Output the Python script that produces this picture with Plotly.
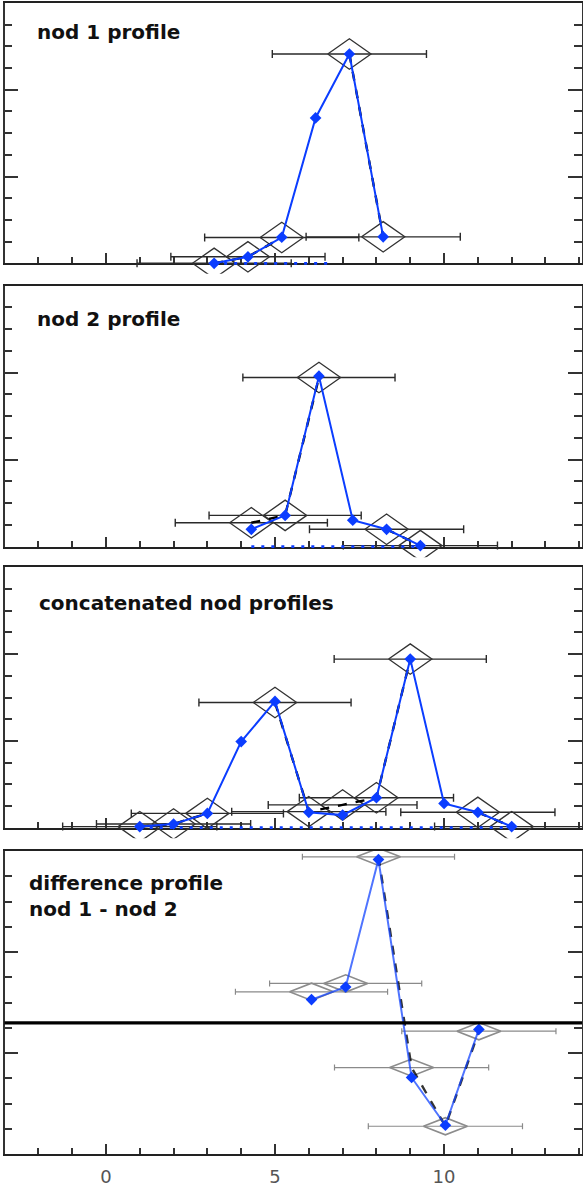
import plotly.graph_objects as go

# ---------------- data ----------------
x_range = [-3, 14.08]
x_ticks_major = [0, 5, 10]

# nod 1 profile
nod1_x = [3.2, 4.2, 5.2, 6.2, 7.2, 8.2]
nod1_blue = [0.0, 0.3, 1.2, 6.7, 9.65, 1.22]
nod1_open = [0.0, 0.3, 1.19, None, 9.65, 1.22]
nod1_black = [0.0, 0.3, 1.19, None, 9.65, 1.22]
nod1_xerr = [2.28, 2.28, 2.28, 0.0, 2.28, 2.28]
nod1_base_x = [3.2, 6.65]
nod1_base_y = [0.0, 0.0]

# nod 2 profile
nod2_x = [4.3, 5.3, 6.3, 7.3, 8.3, 9.3]
nod2_blue = [0.8, 1.44, 7.84, 1.22, 0.8, 0.05]
nod2_open = [1.1, 1.44, 7.78, None, 0.8, 0.05]
nod2_black = [1.1, 1.44, 7.78, None, 0.8, 0.05]
nod2_xerr = [2.25, 2.25, 2.25, 0.0, 2.28, 2.28]
nod2_base_x = [4.3, 9.3]
nod2_base_y = [0.0, 0.0]

# concatenated nod profiles
cat_x = [1.0, 2.0, 3.0, 4.0, 5.0, 6.0, 7.0, 8.0, 9.0, 10.0, 11.0, 12.0]
cat_blue = [0.05, 0.17, 0.66, 3.97, 5.82, 0.71, 0.58, 1.38, 7.77, 1.12, 0.71, 0.05]
cat_open = [0.05, 0.17, 0.66, None, 5.77, 0.74, 1.05, 1.38, 7.77, None, 0.71, 0.05]
cat_black = [0.05, 0.17, 0.66, None, 5.77, 0.74, 1.05, 1.38, 7.77, None, 0.71, 0.05]
cat_xerr = [2.28, 2.28, 2.25, 0.0, 2.25, 2.28, 2.2, 2.28, 2.25, 0.0, 2.28, 2.28]
cat_base_x = [1.0, 12.0]
cat_base_y = [0.0, 0.0]

# difference profile
diff_x = [6.08, 7.09, 8.06, 9.04, 10.04, 11.03]
diff_blue = [0.92, 1.42, 6.46, -2.16, -4.05, -0.26]
diff_open = [1.23, 1.56, 6.57, -1.77, -4.09, -0.33]
diff_black = [None, None, 6.57, -1.77, -4.09, -0.33]
diff_xerr = [2.25, 2.25, 2.25, 2.28, 2.28, 2.28]
diff_zero = 0.0

labels = ["nod 1 profile", "nod 2 profile", "concatenated nod profiles",
          "difference profile<br>nod 1 - nod 2"]

# ---------------- layout constants ----------------
W, H = 583, 1186
X_LEFT, X_RIGHT = 4.5, 582.0
frames = [(3.0, 263.3), (285.7, 546.7), (567.3, 827.7), (851.0, 1154.3)]
yranges = [(0.0, 12.0), (0.0, 12.0), (0.0, 12.0), (-5.2, 6.8)]
ext_below = [10.5, 10.5, 10.5, 0.0]
ytick0 = [0.0, 0.0, 0.0, -1.2]
yminor0 = [0.0, 0.0, 0.0, -0.2]
dia_hw = [0.64, 0.64, 0.64, 0.65]
dia_hh = [0.70, 0.70, 0.70, 0.34]
label_pos = [(35, 32), (35, 319), (37, 603.3), (27, 895.7)]

BLUE = "#0b3dff"

panels = [
    (nod1_x, nod1_blue, nod1_open, nod1_black, nod1_xerr, nod1_base_x, nod1_base_y),
    (nod2_x, nod2_blue, nod2_open, nod2_black, nod2_xerr, nod2_base_x, nod2_base_y),
    (cat_x, cat_blue, cat_open, cat_black, cat_xerr, cat_base_x, cat_base_y),
    (diff_x, diff_blue, diff_open, diff_black, diff_xerr, None, None),
]


def diamond_path(xs, ys, hw, hh):
    px, py = [], []
    for x, y in zip(xs, ys):
        if y is None:
            continue
        px += [x - hw, x, x + hw, x, x - hw, None]
        py += [y, y + hh, y, y - hh, y, None]
    return px, py


fig = go.Figure()
layout = {}
x_dom = [X_LEFT / W, X_RIGHT / W]

for i, (px_, blue, opn, blk, xerr, bx, by) in enumerate(panels):
    n = i + 1
    top, bot = frames[i]
    y0, y1 = yranges[i]
    scale = (bot - top) / (y1 - y0)
    ov_y0 = y0 - ext_below[i] / scale
    xa = "x" if n == 1 else f"x{n}"
    ya_main = "y" if n == 1 else f"y{n}"
    ya_ov = f"y{n + 4}"
    last = (n == 4)
    light = last
    err_col = "#8a8a8a" if light else "#2a2a2a"
    dia_col = "#8c8c8c" if light else "#333333"

    # invisible trace so that the framed main subplot is created
    fig.add_trace(go.Scatter(
        x=px_, y=blue, mode="markers", xaxis=xa, yaxis=ya_main,
        marker=dict(size=1, color="rgba(0,0,0,0)"),
        showlegend=False, hoverinfo="skip"))
    # error bars
    fig.add_trace(go.Scatter(
        x=px_, y=opn, mode="markers", xaxis=xa, yaxis=ya_ov,
        marker=dict(size=2, color="rgba(0,0,0,0)"),
        error_x=dict(type="data", array=xerr, symmetric=True,
                     color=err_col, thickness=1.2 if light else 1.4, width=3 if light else 4),
        showlegend=False, hoverinfo="skip"))
    # open diamonds
    dx, dy = diamond_path(px_, opn, dia_hw[i], dia_hh[i])
    fig.add_trace(go.Scatter(
        x=dx, y=dy, mode="lines", xaxis=xa, yaxis=ya_ov,
        line=dict(color=dia_col, width=1.6 if light else 1.3),
        showlegend=False, hoverinfo="skip"))
    # black dashed connecting line
    fig.add_trace(go.Scatter(
        x=px_, y=blk, mode="lines", xaxis=xa, yaxis=ya_ov,
        line=dict(color="rgba(0,0,0,0.8)" if light else "#000000", width=2.4, dash="dash"),
        connectgaps=False, showlegend=False, hoverinfo="skip"))
    # baseline dotted
    if bx is not None:
        fig.add_trace(go.Scatter(
            x=bx, y=by, mode="lines", xaxis=xa, yaxis=ya_ov,
            line=dict(color=BLUE, width=2.8, dash="3px,7px"),
            showlegend=False, hoverinfo="skip"))
    # blue profile
    fig.add_trace(go.Scatter(
        x=px_, y=blue, mode="lines+markers", xaxis=xa, yaxis=ya_ov,
        line=dict(color="rgba(20,70,255,0.75)" if light else BLUE, width=2),
        marker=dict(symbol="diamond", size=9, color=BLUE),
        cliponaxis=False, showlegend=False, hoverinfo="skip"))

    dom = [1 - bot / H, 1 - top / H]
    ov_dom = [1 - (bot + ext_below[i]) / H, 1 - top / H]
    xkey = "xaxis" if n == 1 else f"xaxis{n}"
    ykey = "yaxis" if n == 1 else f"yaxis{n}"
    layout[xkey] = dict(
        domain=x_dom, anchor=ya_main, range=x_range,
        showline=True, linecolor="#222222", linewidth=1.8, mirror=True,
        layer="below traces",
        ticks="inside", tickmode="array", tickvals=x_ticks_major, ticklen=10,
        tickwidth=1.5, tickcolor="#333333",
        minor=dict(dtick=1, tick0=0, ticks="inside", ticklen=6, tickwidth=1.5,
                   tickcolor="#333333", showgrid=False),
        showgrid=False, zeroline=False,
        showticklabels=last,
        tickfont=dict(family="DejaVu Sans", size=18, color="#555555"),
        ticklabelstandoff=5,
        fixedrange=True)
    layout[ykey] = dict(
        domain=dom, anchor=xa, range=[y0, y1],
        showline=True, linecolor="#333333", linewidth=1.5, mirror="allticks",
        layer="below traces",
        ticks="inside", tick0=ytick0[i], dtick=4, ticklen=14, tickwidth=1.5,
        tickcolor="#333333",
        minor=dict(tick0=yminor0[i], dtick=1, ticks="inside", ticklen=8,
                   tickwidth=1.5, tickcolor="#333333", showgrid=False),
        showgrid=False, zeroline=False, showticklabels=False, fixedrange=True)
    layout[f"yaxis{n + 4}"] = dict(
        domain=ov_dom, anchor=xa, range=[ov_y0, y1], visible=False,
        fixedrange=True)

annotations = []
for i, txt in enumerate(labels):
    lx, ly = label_pos[i]
    annotations.append(dict(
        x=lx / W, y=1 - ly / H, xref="paper", yref="paper",
        xanchor="left", yanchor="middle", align="left", showarrow=False,
        text=txt,
        font=dict(family="DejaVu Sans", size=20, color="#111111", weight="bold")))

shapes = [dict(type="line", xref="x4 domain", x0=0, x1=1, yref="y4",
               y0=diff_zero, y1=diff_zero, line=dict(color="#000000", width=3.2))]

fig.update_layout(
    width=W, height=H, margin=dict(l=0, r=0, t=0, b=0),
    paper_bgcolor="white", plot_bgcolor="rgba(0,0,0,0)",
    showlegend=False, annotations=annotations, shapes=shapes,
    **layout)

fig.write_html("out.html", config={"displayModeBar": False},
               post_script="document.body.style.margin='0';document.body.style.padding='0';")
